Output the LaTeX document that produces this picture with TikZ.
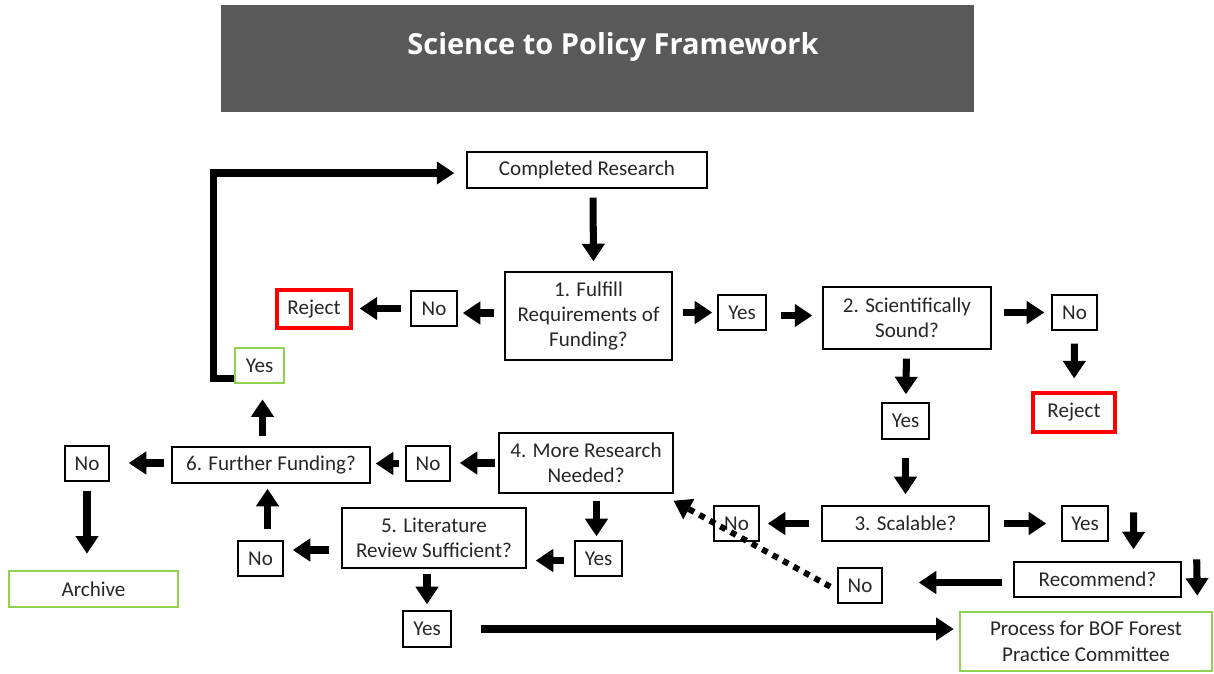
\documentclass[tikz,border=0pt]{standalone}
\usepackage{fontspec}
\setmainfont{Carlito}
\newfontfamily\titlefont{Open Sans}
\usetikzlibrary{arrows.meta,calc}
\definecolor{titlegray}{HTML}{595959}
\definecolor{rejred}{HTML}{FF0000}
\definecolor{okgreen}{HTML}{92D050}
\definecolor{txt}{HTML}{262626}
\tikzset{
  bx/.style={draw=black, line width=0.8pt, inner sep=0pt, align=center, text=txt,
    font=\fontsize{12}{14.5}\selectfont},
  redbx/.style={bx, draw=rejred, line width=1.8pt},
  grnbx/.style={bx, draw=okgreen, line width=1.5pt},
  blk/.style={line width=4pt, -{Triangle[length=10pt,width=12.5pt]}},
  dsh/.style={line width=3.4pt, dash pattern=on 3.4pt off 3.4pt, -{Triangle[length=10pt,width=12.5pt]}},
}
\begin{document}
\begin{tikzpicture}[x=0.02cm,y=-0.02cm]
\useasboundingbox (0,0) rectangle (1214,673);
% title
\node[fill=titlegray, minimum width=15.06cm, minimum height=2.14cm, inner sep=0pt] (title) at (597.5,58.5) {};
\node[text=white, inner sep=0pt, font=\titlefont\bfseries\fontsize{16.5}{20}\selectfont] (ttext) at (613,47) {Science to Policy Framework};
% nodes
\node[bx, minimum width=4.8cm, minimum height=0.72cm] (cr) at (587,170) {Completed Research};
\node[bx, minimum width=3.34cm, minimum height=1.76cm] (q1) at (588.5,316) {1. Fulfill\\Requirements of\\Funding?};
\node[redbx, minimum width=1.48cm, minimum height=0.76cm] (rejL) at (314,309) {Reject};
\node[bx, minimum width=0.92cm, minimum height=0.70cm] (noL1) at (434,308.5) {No};
\node[bx, minimum width=0.96cm, minimum height=0.70cm] (yes1) at (742,312.5) {Yes};
\node[bx, minimum width=3.36cm, minimum height=1.24cm] (q2) at (907,318) {2. Scientifically\\Sound?};
\node[bx, minimum width=0.90cm, minimum height=0.70cm] (no2) at (1074.5,312.5) {No};
\node[redbx, minimum width=1.64cm, minimum height=0.78cm] (rejR) at (1074,412.5) {Reject};
\node[bx, minimum width=0.94cm, minimum height=0.72cm] (yes2) at (905.5,421) {Yes};
\node[grnbx, minimum width=0.98cm, minimum height=0.70cm] (yesG) at (259.5,365.5) {Yes};
\node[bx, minimum width=3.48cm, minimum height=1.20cm] (q4) at (586,463) {4. More Research\\Needed?};
\node[bx, minimum width=0.88cm, minimum height=0.70cm] (no4) at (428,463.5) {No};
\node[bx, minimum width=3.96cm, minimum height=0.72cm] (q6) at (271,465) {6. Further Funding?};
\node[bx, minimum width=0.88cm, minimum height=0.70cm] (noA) at (87,463.5) {No};
\node[grnbx, minimum width=3.38cm, minimum height=0.72cm] (arch) at (93.5,589) {Archive};
\node[bx, minimum width=3.68cm, minimum height=1.20cm] (q5) at (434,538) {5. Literature\\Review Sufficient?};
\node[bx, minimum width=0.90cm, minimum height=0.70cm] (no5) at (260.5,558.5) {No};
\node[bx, minimum width=0.96cm, minimum height=0.72cm] (yes5) at (427,629) {Yes};
\node[bx, minimum width=0.94cm, minimum height=0.70cm] (yes4) at (598.5,558.5) {Yes};
\node[bx, minimum width=3.34cm, minimum height=0.70cm] (q3) at (905.5,523.5) {3. Scalable?};
\node[bx, minimum width=0.90cm, minimum height=0.70cm] (no3) at (736.5,523.5) {No};
\node[bx, minimum width=0.92cm, minimum height=0.70cm] (yes3) at (1085,523.5) {Yes};
\node[bx, minimum width=3.34cm, minimum height=0.70cm] (rec) at (1097.5,579.5) {Recommend?};
\node[bx, minimum width=0.88cm, minimum height=0.70cm] (noR) at (860,585.5) {No};
\node[grnbx, minimum width=5.04cm, minimum height=1.18cm] (proc) at (1086,641.5) {Process for BOF Forest\\Practice Committee};
% connectors
\draw[blk, shorten <=0.18cm, shorten >=0.2cm] ($(cr.south)+(6,0)$) -- ($(q1.north)+(5,0)$);
\draw[blk, shorten <=0.2cm, shorten >=0.1cm] ($(q1.west)+(0,-3)$) -- ($(q1.west -| noL1.east)+(0,-3)$);
\draw[blk, shorten <=0.18cm, shorten >=0.14cm] (noL1.west) -- (noL1.west -| rejL.east);
\draw[blk, shorten <=0.2cm, shorten >=0.1cm] (yes1.west -| q1.east) -- (yes1.west);
\draw[blk, shorten <=0.28cm, shorten >=0.2cm] ($(yes1.east)+(0,3)$) -- ($(yes1.east -| q2.west)+(0,3)$);
\draw[blk, shorten <=0.24cm, shorten >=0.14cm] (no2.west -| q2.east) -- (no2.west);
\draw[blk, shorten <=0.26cm, shorten >=0.26cm] (no2) -- (rejR);
\draw[blk, shorten <=0.18cm, shorten >=0.16cm] (q2) -- (yes2);
\draw[blk, shorten <=0.36cm, shorten >=0.22cm] (yes2) -- (q3);
\draw[blk, shorten <=0.24cm, shorten >=0.16cm] (q3.west) -- (q3.west -| no3.east);
\draw[blk, shorten <=0.28cm, shorten >=0.3cm] (q3.east) -- (q3.east -| yes3.west);
\draw[blk] ($(yes3.north east)+(25,7)$) -- ($(rec.north)+(36,-12)$);
\draw[blk] ($(rec.north east)+(15,-2)$) -- ($(proc.north east)+(-16,-15)$);
\draw[blk, shorten <=0.22cm, shorten >=0.72cm] ($(rec.west)+(0,3)$) -- ($(rec.west -| noR.east)+(0,3)$);
\draw[dsh, shorten <=0.16cm, shorten >=0.04cm] ($(noR.west)+(0,5)$) -- ($(q4.south east)+(-2,6)$);
\draw[blk, shorten <=0.06cm, shorten >=0.18cm] (q4.west) -- (q4.west -| no4.east);
\draw[blk, shorten <=0.12cm, shorten >=0.1cm] (no4.west) -- (no4.west -| q6.east);
\draw[blk, shorten <=0.14cm, shorten >=0.38cm] ($(q6.west)+(0,-2)$) -- ($(q6.west -| noA.east)+(0,-2)$);
\draw[blk, shorten <=0.18cm, shorten >=0.32cm] (noA) -- (noA |- arch.north);
\draw[blk, shorten <=0.2cm, shorten >=0.3cm] ($(q6.north -| yesG.south)+(3,0)$) -- ($(yesG.south)+(3,0)$);
\draw[line width=4pt, -{Triangle[length=10pt,width=12.5pt]}, line join=miter]
  ($(yesG.south west)+(0,-6)$) -- ++(-20,0) |- ($(cr.west)+(-12,3)$);
\coordinate (a22) at ($(no5.north)+(7,0)$);
\draw[blk, shorten <=0.22cm, shorten >=0.1cm] (a22) -- (a22 |- q6.south);
\draw[blk, shorten <=0.24cm, shorten >=0.18cm] ($(q5.west)+(0,12)$) -- ($(q5.west -| no5.east)+(0,12)$);
\draw[blk, shorten <=0.14cm, shorten >=0.08cm] ($(yes4.north |- q4.south)+(-2,0)$) -- ($(yes4.north)+(-2,0)$);
\draw[blk, shorten <=0.2cm, shorten >=0.18cm] ($(yes4.west)+(0,2)$) -- ($(yes4.west -| q5.east)+(0,2)$);
\draw[blk, shorten <=0.1cm, shorten >=0.12cm] (q5.south -| yes5.north) -- (yes5.north);
\draw[blk, shorten <=0.58cm, shorten >=0.1cm] (yes5.east) -- (yes5.east -| proc.west);
\end{tikzpicture}
\end{document}
